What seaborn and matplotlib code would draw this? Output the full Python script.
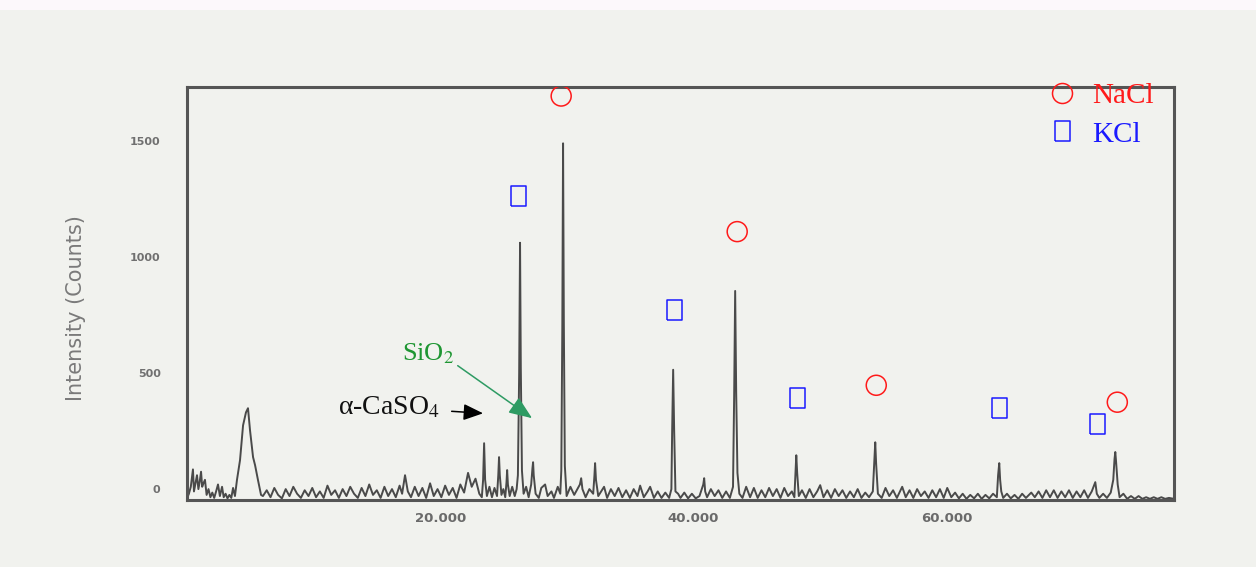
import matplotlib
matplotlib.use("Agg")
import matplotlib.pyplot as plt
from matplotlib.lines import Line2D
from matplotlib.patches import Rectangle
import seaborn as sns
import pandas as pd

two_theta = [
    2.00, 2.15, 2.30, 2.47, 2.55, 2.65, 2.79, 2.90, 3.00, 3.11, 3.20, 3.30, 3.42, 3.55, 3.70, 3.85,
    4.00, 4.15, 4.30, 4.45, 4.60, 4.77, 4.90, 5.05, 5.20, 5.35, 5.50, 5.64, 5.79, 5.95,
    6.19, 6.43, 6.66, 6.82, 6.98, 7.22, 7.38, 7.61, 7.85,
    8.0, 8.3, 8.6, 8.9, 9.2, 9.5, 9.8, 10.1, 10.4, 10.7, 11.0, 11.3, 11.6, 11.9, 12.2, 12.5,
    12.8, 13.1, 13.4, 13.7, 14.0, 14.3, 14.6, 14.9, 15.2, 15.5, 15.8, 16.1, 16.4, 16.7, 17.0,
    17.3, 17.6, 17.9, 18.2, 18.5, 18.8, 19.0, 19.23, 19.45, 19.7, 20.0, 20.3, 20.6, 20.9, 21.21,
    21.5, 21.8, 22.1, 22.4, 22.7, 23.0, 23.3, 23.6, 23.9, 24.21, 24.5, 24.8, 25.1, 25.3,
    25.40, 25.48, 25.56, 25.7, 25.9, 26.1, 26.3, 26.5, 26.60, 26.66, 26.72, 26.85, 27.0, 27.15,
    27.25, 27.30, 27.36, 27.5, 27.7, 27.9, 28.05,
    28.15, 28.25, 28.32, 28.38, 28.47, 28.6, 28.8, 29.0, 29.2, 29.30, 29.35, 29.40, 29.55, 29.8,
    30.0, 30.3, 30.5, 30.8, 31.0, 31.3, 31.5,
    31.58, 31.66, 31.72, 31.78, 31.86, 32.0, 32.3, 32.6, 32.9, 33.05, 33.15, 33.25, 33.5, 33.8,
    34.1, 34.2, 34.25, 34.32, 34.5, 34.96, 35.2, 35.5, 35.8, 36.1, 36.4, 36.7, 37.0, 37.3, 37.6,
    37.81, 38.1, 38.4, 38.6, 38.9, 39.2, 39.5, 39.8, 40.1, 40.28,
    40.34, 40.42, 40.50, 40.6, 40.81, 41.0, 41.3, 41.6, 41.9, 42.2, 42.5, 42.8, 42.87, 42.95,
    43.1, 43.4, 43.7, 44.0, 44.3, 44.6, 44.9, 45.15,
    45.24, 45.32, 45.40, 45.5, 45.65, 45.9, 46.19, 46.5, 46.8, 47.1, 47.4, 47.7, 48.0, 48.3,
    48.6, 48.9, 49.2, 49.5, 49.8, 50.0,
    50.10, 50.15, 50.22, 50.35, 50.6, 50.9, 51.2, 51.5, 51.8, 52.04, 52.3, 52.6, 52.9, 53.2,
    53.5, 53.8, 54.1, 54.4, 54.7, 55.0, 55.3, 55.6, 55.9, 56.2,
    56.32, 56.39, 56.46, 56.6, 56.9, 57.2, 57.5, 57.8, 58.1, 58.52, 58.8, 59.1, 59.4, 59.7,
    60.0, 60.3, 60.6, 60.9, 61.2, 61.5, 61.8, 62.08, 62.4, 62.7, 63.0, 63.3, 63.6, 63.9, 64.2,
    64.5, 64.8, 65.1, 65.4, 65.7, 66.0,
    66.10, 66.19, 66.26, 66.35, 66.5, 66.8, 67.1, 67.4, 67.7, 68.0, 68.3, 68.72, 69.0, 69.3,
    69.6, 69.9, 70.2, 70.5, 70.8, 71.1, 71.4, 71.7, 72.0, 72.3, 72.6, 72.9, 73.2, 73.5, 73.78,
    73.9, 74.1, 74.4, 74.7, 75.0, 75.2,
    75.30, 75.36, 75.42, 75.55, 75.7, 76.0, 76.3, 76.6, 76.9, 77.2, 77.5, 77.8, 78.1, 78.4,
    78.7, 79.0, 79.3, 79.6, 80.0,
]
intensity = [
    -40, -20, 10, 85, -10, 20, 60, 0, 30, 75, 10, 25, 40, -25, 0, -35,
    -15, -38, -10, 20, -30, 10, -35, -20, -40, -25, -38, 5, -30, 40,
    125, 275, 331, 349, 254, 138, 103, 39, -25,
    -30, -5, -35, 5, -25, -40, 0, -30, 10, -20, -38, -5, -30, 5, -35, -10,
    -38, 15, -25, -5, -38, 0, -30, 10, -20, -38, 5, -30, 20, -25, -5,
    -38, 10, -30, 0, -35, 15, -20, 60, -10, -35, 10, -30, 5, -38, 25,
    -30, 0, -35, 15, -25, 5, -38, 20, -15, 70, 10, 45, -20, -35,
    40, 198, 40, -30, 10, -35, 5, -30, 60, 138, 60, -25, 0, -35,
    30, 82, 20, -30, 10, -30, 0,
    60, 500, 1063, 520, 80, -20, 10, -35, 20, 90, 116, 60, -20, -38,
    5, 20, -30, -10, -38, 10, -20,
    80, 700, 1492, 720, 100, -30, 10, -25, 5, 20, 47, 0, -35, 0,
    -20, 60, 112, 40, -30, 10, -38, 0, -30, 5, -35, -5, -38, 0, -30,
    15, -35, -10, 10, -38, -10, -38, -15, -38, 0,
    250, 515, 250, -10, -20, -38, -15, -40, -20, -40, -30, 20, 47, -10,
    -35, 0, -30, -5, -38, -10, -38, 10,
    400, 855, 420, 70, -20, -38, 10, -35, 5, -38, -5, -35, 5, -30,
    0, -38, 5, -30, -10, -35,
    80, 146, 70, -30, -5, -38, 0, -35, -10, 17, -35, -5, -38, 0,
    -30, -5, -38, -10, -35, 0, -38, -15, -35, -10,
    120, 202, 110, -20, -38, 5, -30, -5, -38, 10, -35, -5, -38, 0,
    -30, -10, -38, -5, -35, 0, -38, 5, -35, -15, -40, -20, -42, -25, -40,
    -20, -42, -25, -40, -20, -35,
    60, 112, 40, -10, -38, -20, -40, -25, -42, -20, -38, -15, -35, -10,
    -38, -5, -35, -5, -38, -10, -35, -5, -38, -10, -35, -5, -38, -10, 30,
    -20, -38, -20, -38, -15, 40,
    130, 160, 120, 20, -35, -20, -42, -30, -42, -30, -42, -35, -42, -35,
    -42, -35, -42, -38, -42,
]

# phase markers (2-theta, label height in counts)
nacl_theta = [31.57, 45.48, 56.47, 75.52]
nacl_mark = [1696, 1111, 448, 375]
kcl_theta = [28.17, 40.50, 50.22, 66.19, 73.94]
kcl_mark = [1266, 771, 392, 349, 280]

x_ticks = [20, 40, 60]
x_tick_labels = ["20.000", "40.000", "60.000"]
y_ticks = [0, 500, 1000, 1500]
y_tick_labels = ["0", "500", "1000", "1500"]

# ---------------- style ----------------
sns.set_theme(style="white")
plt.rcParams["font.family"] = ["DejaVu Sans"]
plt.rcParams["mathtext.fontset"] = "stix"

BG = "#f1f2ee"
TRACE = "#4a4a4a"
SERIF = ["Liberation Serif", "DejaVu Serif"]

fig = plt.figure(figsize=(12.56, 5.67), dpi=100, facecolor=BG)
fig.patches.append(Rectangle((0, 1 - 10 / 567), 1, 10 / 567, transform=fig.transFigure,
                             facecolor="#fcf8fb", edgecolor="none", zorder=0))
ax = fig.add_axes([187 / 1256, 1 - 500 / 567, 987 / 1256, 413 / 567])
ax.set_facecolor(BG)

df = pd.DataFrame({"two_theta": two_theta, "intensity": intensity})
sns.lineplot(data=df, x="two_theta", y="intensity", ax=ax, color=TRACE, lw=1.4,
             estimator=None, sort=False)

circle_size = 14.4 ** 2
sns.scatterplot(x=nacl_theta, y=nacl_mark, ax=ax, marker="o", s=circle_size,
                facecolor="none", edgecolor="#ff1a1a", linewidth=1.1, zorder=5)
rect_marker = [(-0.375, -0.5), (0.375, -0.5), (0.375, 0.5), (-0.375, 0.5), (-0.375, -0.5)]
sns.scatterplot(x=kcl_theta, y=kcl_mark, ax=ax, marker=rect_marker, s=circle_size,
                facecolor="none", edgecolor="#1a1aff", linewidth=1.1, zorder=5)

ax.set_xlim(2, 80)
ax.set_ylim(-47, 1735)
ax.set_xticks(x_ticks)
ax.set_xticklabels(x_tick_labels, ha="left", fontsize=9.5, color="#6a6a6a", fontweight="bold")
ax.set_yticks(y_ticks)
ax.set_yticklabels(y_tick_labels, fontsize=8, color="#707070", fontweight="bold")
ax.tick_params(axis="x", length=0, pad=9)
ax.tick_params(axis="y", length=0, pad=19)
ax.set_xlabel("")
ax.set_ylabel("Intensity (Counts)", fontsize=15, color="#7a7a7a")
ax.yaxis.set_label_coords(-0.1023, 0.465)

for s in ax.spines.values():
    s.set_visible(True)
    s.set_color("#555555")
    s.set_linewidth(2.2)

# annotations
ax.annotate("SiO$_2$", xy=(29.27, 306), xytext=(19.0, 585), fontsize=19, color="#1e9632",
            family=SERIF, ha="left", va="center",
            arrowprops=dict(arrowstyle="-|>,head_length=0.75,head_width=0.3", color="#2e9b63",
                            lw=1.1, shrinkA=0, shrinkB=0, relpos=(1.0, 0.1)))
ax.annotate("α-CaSO$_4$", xy=(25.40, 327), xytext=(22.0, 353), fontsize=20, color="#111111",
            family=SERIF, ha="right", va="center",
            arrowprops=dict(arrowstyle="-|>,head_length=0.6,head_width=0.25", color="black",
                            lw=1.1, shrinkA=6, shrinkB=0))

# legend
handles = [
    Line2D([], [], ls="", marker="o", ms=14.4, mfc="none", mec="#ff1a1a", mew=1.1),
    Line2D([], [], ls="", marker=rect_marker, ms=14.4, mfc="none", mec="#1a1aff", mew=1.1),
]
ax.legend(handles, ["NaCl", "KCl"], loc="upper left", bbox_to_anchor=(1027 / 1256, 1 - 62 / 567),
          bbox_transform=fig.transFigure, frameon=False,
          prop={"family": SERIF, "size": 21}, labelcolor=["#ff1a1a", "#1a1aff"],
          handlelength=1.0, handletextpad=0.55, labelspacing=0.42, borderpad=0.2)

fig.savefig("out.png", dpi=100, facecolor=BG)
